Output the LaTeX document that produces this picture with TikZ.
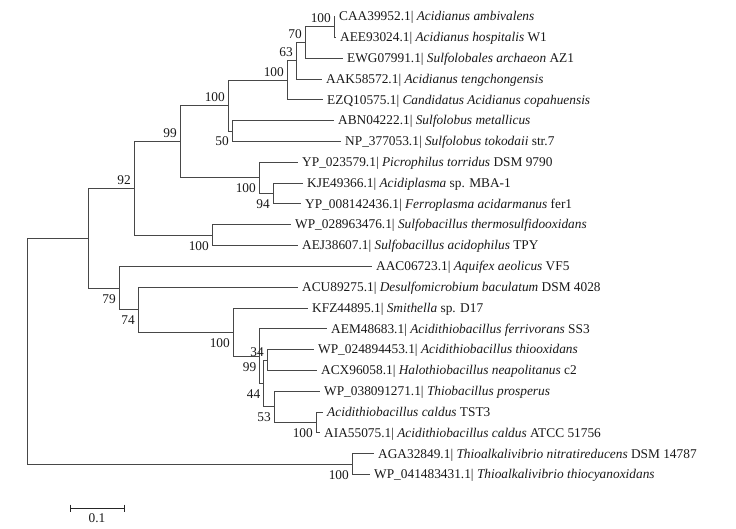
\documentclass[tikz,border=0pt]{standalone}
\usepackage{fontspec}
\setmainfont{Liberation Serif}
\begin{document}
\begin{tikzpicture}[x=1pt,y=-1pt,
  br/.style={line width=0.9pt, draw=black!72},
  leaf/.style={anchor=west, inner xsep=4pt, inner ysep=0pt, text height=8.6pt, text depth=0pt, font=\fontsize{13.35}{15}\selectfont, text=black!90},
  bsU/.style={anchor=base east, xshift=-3pt, yshift=4pt, inner sep=0pt, font=\fontsize{13.35}{15}\selectfont, text=black!90},
  bsD/.style={anchor=base east, xshift=-3pt, yshift=-15pt, inner sep=0pt, font=\fontsize{13.35}{15}\selectfont, text=black!90},
  sb/.style={line width=0.9pt, draw=black!85}]
\useasboundingbox (0,0) rectangle (736,529);
% internal nodes
\coordinate (root) at (27,351);
\coordinate (nA) at (88,238.2);
\coordinate (nB) at (134,188.4);
\coordinate (nD) at (180,141.7);
\coordinate (nF) at (228,105.6);
\coordinate (nH) at (287,80.3);
\coordinate (nJ) at (296,60.75);
\coordinate (nK) at (305,42.5);
\coordinate (nL) at (334,26.9);
\coordinate (nI) at (232,131);
\coordinate (nG) at (259,177.9);
\coordinate (nM) at (273,193.5);
\coordinate (nE) at (212,235.1);
\coordinate (nC) at (119,288);
\coordinate (nN) at (138,309.6);
\coordinate (nO) at (233,332);
\coordinate (nP) at (259.5,356.1);
\coordinate (nX) at (263.5,383.5);
\coordinate (nR) at (267,360);
\coordinate (nS) at (274,406.9);
\coordinate (nT) at (316,422.5);
\coordinate (nQ) at (352,464.1);
% leaves
\node[leaf] (lCAA) at (335,16.5) {CAA39952.1| \textit{Acidianus ambivalens}};
\node[leaf] (lAEE) at (336,37.3) {AEE93024.1| \textit{Acidianus hospitalis} W1};
\node[leaf] (lEWG) at (343,58.1) {EWG07991.1| \textit{Sulfolobales archaeon} AZ1};
\node[leaf] (lAAK) at (322,79.0) {AAK58572.1| \textit{Acidianus tengchongensis}};
\node[leaf] (lEZQ) at (323,99.8) {EZQ10575.1| \textit{Candidatus Acidianus copahuensis}};
\node[leaf] (lABN) at (334,120.6) {ABN04222.1| \textit{Sulfolobus metallicus}};
\node[leaf] (lNP) at (341,141.4) {NP\_377053.1| \textit{Sulfolobus tokodaii} str.7};
\node[leaf] (lYPa) at (298,162.2) {YP\_023579.1| \textit{Picrophilus torridus} DSM 9790};
\node[leaf] (lKJE) at (303,183.1) {KJE49366.1| \textit{Acidiplasma} sp. MBA-1};
\node[leaf] (lYPb) at (301,203.9) {YP\_008142436.1| \textit{Ferroplasma acidarmanus} fer1};
\node[leaf] (lWPa) at (291,224.7) {WP\_028963476.1| \textit{Sulfobacillus thermosulfidooxidans}};
\node[leaf] (lAEJ) at (298,245.5) {AEJ38607.1| \textit{Sulfobacillus acidophilus} TPY};
\node[leaf] (lAAC) at (372,266.3) {AAC06723.1| \textit{Aquifex aeolicus} VF5};
\node[leaf] (lACU) at (298,287.2) {ACU89275.1| \textit{Desulfomicrobium baculatum} DSM 4028};
\node[leaf] (lKFZ) at (308,308.0) {KFZ44895.1| \textit{Smithella} sp. D17};
\node[leaf] (lAEM) at (327,328.8) {AEM48683.1| \textit{Acidithiobacillus ferrivorans} SS3};
\node[leaf] (lWPb) at (314,349.6) {WP\_024894453.1| \textit{Acidithiobacillus thiooxidans}};
\node[leaf] (lACX) at (317,370.4) {ACX96058.1| \textit{Halothiobacillus neapolitanus} c2};
\node[leaf] (lWPc) at (320,391.3) {WP\_038091271.1| \textit{Thiobacillus prosperus}};
\node[leaf] (lTST) at (323,412.1) {\textit{Acidithiobacillus caldus} TST3};
\node[leaf] (lAIA) at (320,432.9) {AIA55075.1| \textit{Acidithiobacillus caldus} ATCC 51756};
\node[leaf] (lAGA) at (374,453.7) {AGA32849.1| \textit{Thioalkalivibrio nitratireducens} DSM 14787};
\node[leaf] (lWPd) at (370,474.5) {WP\_041483431.1| \textit{Thioalkalivibrio thiocyanoxidans}};
% branches
\draw[br] (root) |- (nA); \draw[br] (root) |- (nQ);
\draw[br] (nA) |- (nB); \draw[br] (nA) |- (nC);
\draw[br] (nB) |- (nD); \draw[br] (nB) |- (nE);
\draw[br] (nD) |- (nF); \draw[br] (nD) |- (nG);
\draw[br] (nF) |- (nH); \draw[br] (nF) |- (nI);
\draw[br] (nH) |- (nJ); \draw[br] (nH) |- (lEZQ.west);
\draw[br] (nJ) |- (nK); \draw[br] (nJ) |- (lAAK.west);
\draw[br] (nK) |- (nL); \draw[br] (nK) |- (lEWG.west);
\draw[br] (nL) |- (lCAA.west); \draw[br] (nL) |- (lAEE.west);
\draw[br] (nI) |- (lABN.west); \draw[br] (nI) |- (lNP.west);
\draw[br] (nG) |- (lYPa.west); \draw[br] (nG) |- (nM);
\draw[br] (nM) |- (lKJE.west); \draw[br] (nM) |- (lYPb.west);
\draw[br] (nE) |- (lWPa.west); \draw[br] (nE) |- (lAEJ.west);
\draw[br] (nC) |- (lAAC.west); \draw[br] (nC) |- (nN);
\draw[br] (nN) |- (lACU.west); \draw[br] (nN) |- (nO);
\draw[br] (nO) |- (lKFZ.west); \draw[br] (nO) |- (nP);
\draw[br] (nP) |- (lAEM.west); \draw[br] (nP) |- (nX);
\draw[br] (nX) |- (nR); \draw[br] (nX) |- (nS);
\draw[br] (nR) |- (lWPb.west); \draw[br] (nR) |- (lACX.west);
\draw[br] (nS) |- (lWPc.west); \draw[br] (nS) |- (nT);
\draw[br] (nT) |- (lTST.west); \draw[br] (nT) |- (lAIA.west);
\draw[br] (nQ) |- (lAGA.west); \draw[br] (nQ) |- (lWPd.west);
% bootstrap values
\node[bsU] (bL) at (nL) {100};
\node[bsU] (bK) at (nK) {70};
\node[bsU] (bJ) at (nJ) {63};
\node[bsU] (bH) at (nH) {100};
\node[bsU] (bF) at (nF) {100};
\node[bsU] (bD) at (nD) {99};
\node[bsU] (bB) at (nB) {92};
\node[bsD] (bI) at (nI) {50};
\node[bsD] (bE) at (nE) {100};
\node[bsD] (bG) at (nG) {100};
\node[bsD] (bM) at (nM) {94};
\node[bsD] (bC) at (nC) {79};
\node[bsD] (bN) at (nN) {74};
\node[bsD] (bO) at (nO) {100};
\node[bsD] (bP) at (nP) {99};
\node[bsD] (bX) at (nX) {44};
\node[bsU] (bR) at (nR) {34};
\node[bsD] (bS) at (nS) {53};
\node[bsD] (bT) at (nT) {100};
\node[bsD] (bQ) at (nQ) {100};
% scale bar
\coordinate (sbL) at (70,508);
\coordinate (sbR) at (124,508);
\draw[sb] (sbL) -- (sbR);
\draw[sb] ([yshift=3.5pt]sbL) -- ([yshift=-3.5pt]sbL);
\draw[sb] ([yshift=3.5pt]sbR) -- ([yshift=-3.5pt]sbR);
\node[font=\fontsize{13.35}{15}\selectfont, text=black!90, inner sep=0pt] (sbT) at (97,518) {0.1};
\end{tikzpicture}
\end{document}
